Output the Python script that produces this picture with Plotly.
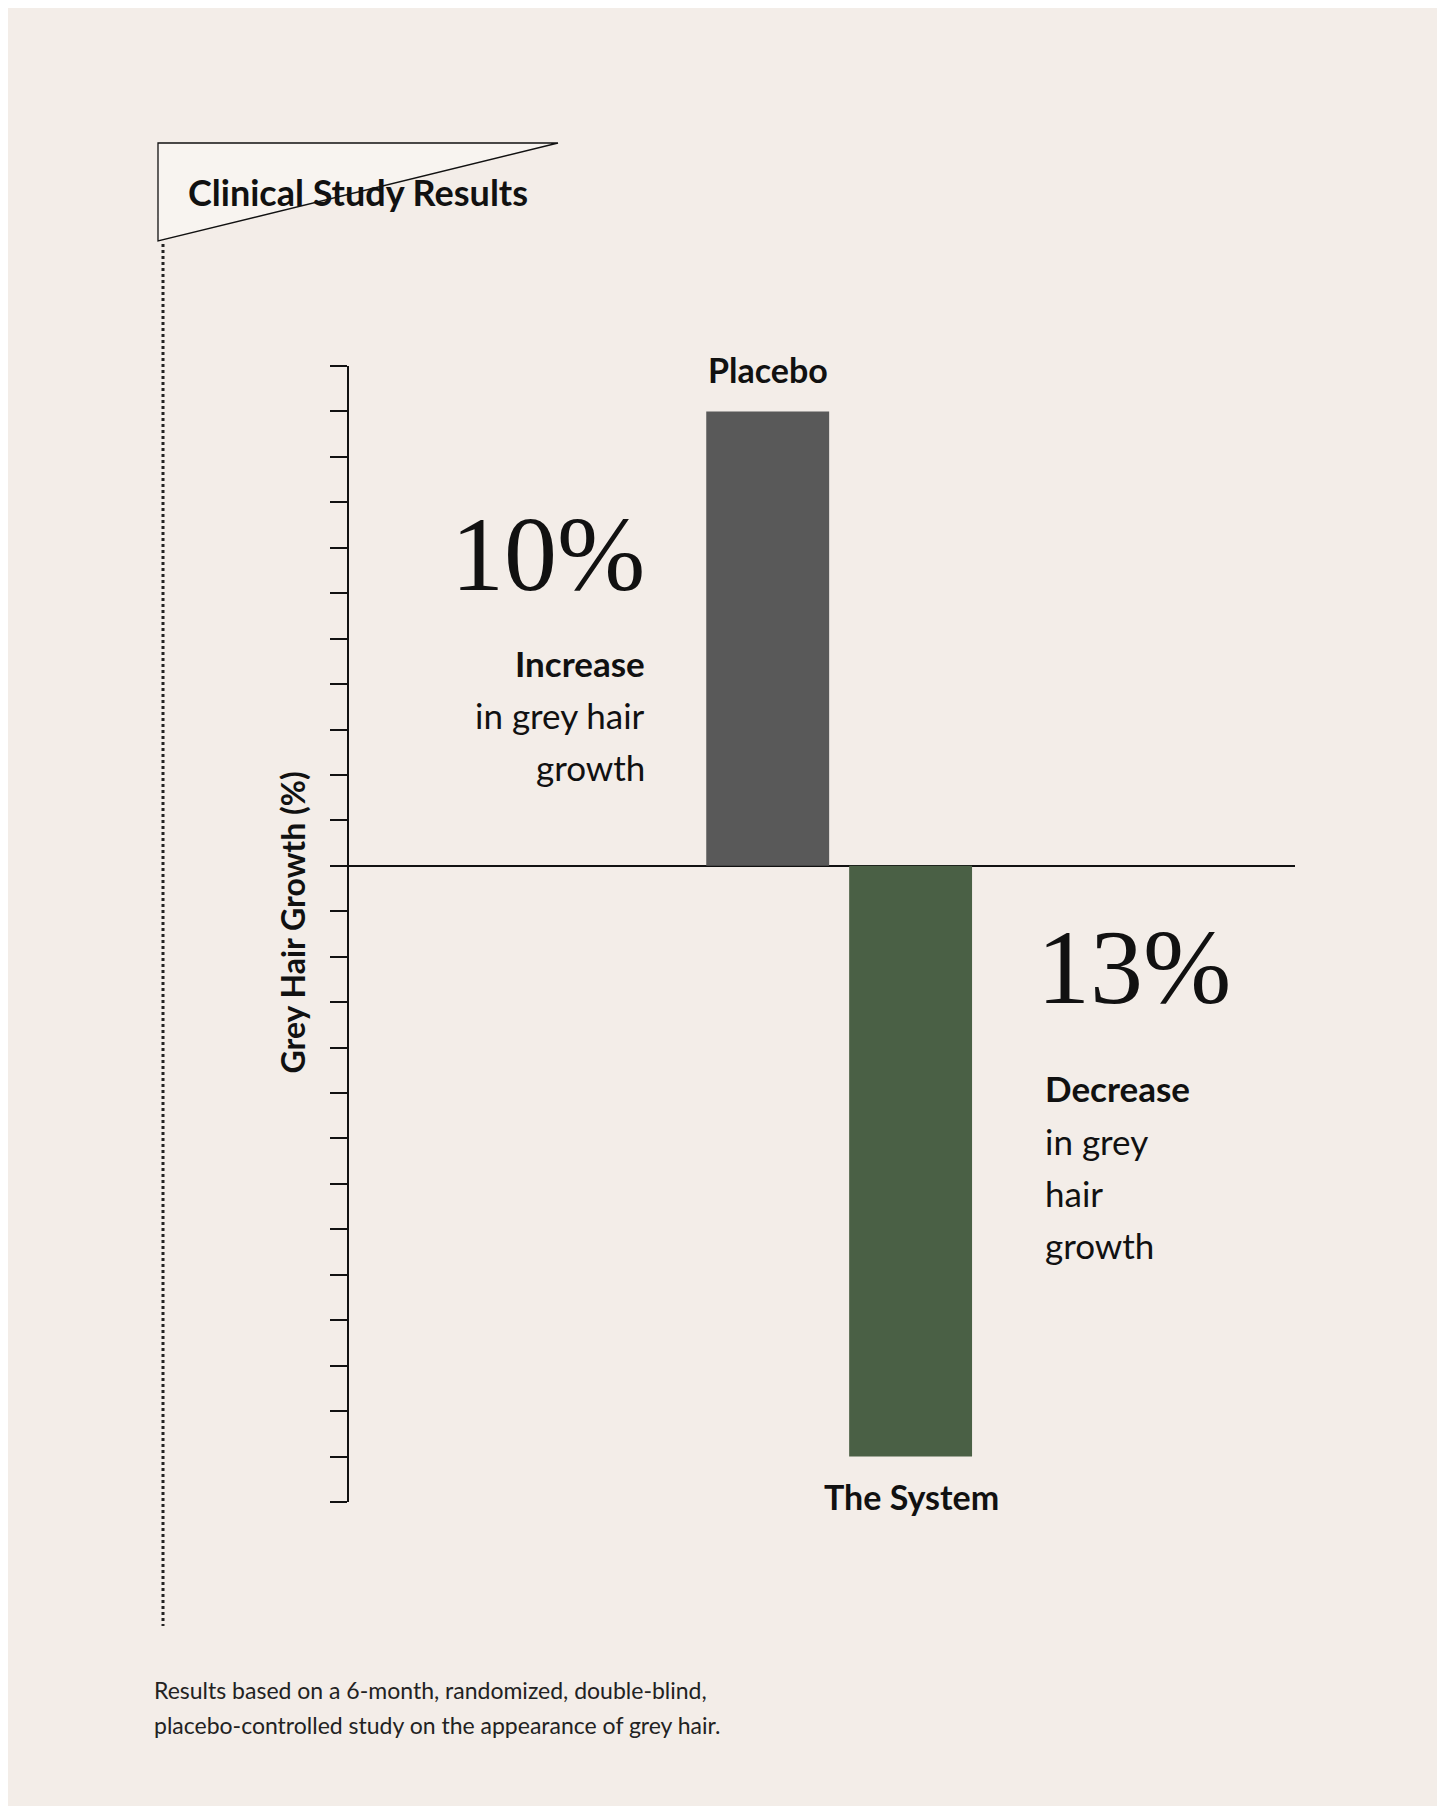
import plotly.graph_objects as go

groups = ["Placebo", "The System"]
growth = [10, -13]
bar_colors = ["#595959", "#4a6045"]
values_text = ["10%", "13%"]

W, H = 1445, 1806
SANS = "Lato, Inter, sans-serif"
SERIF = "Liberation Serif, DejaVu Serif, serif"

fig = go.Figure(go.Bar(x=groups, y=growth, marker_color=bar_colors,
                       marker_line_width=0, width=0.86))

fig.update_layout(
    width=W, height=H, margin=dict(l=0, r=0, t=0, b=0),
    paper_bgcolor="#f3ede8", plot_bgcolor="rgba(0,0,0,0)",
    showlegend=False,
    xaxis=dict(domain=[341/W, 1287/W], range=[-2.93, 3.69],
               showticklabels=False, showgrid=False, zeroline=False),
    yaxis=dict(domain=[1-1494/H, 1-358/H], range=[-14, 11], dtick=1,
               showticklabels=False, showgrid=False,
               showline=True, linecolor="#111", linewidth=1.5,
               ticks="outside", ticklen=17, tickcolor="#111", tickwidth=1.5,
               zeroline=True, zerolinecolor="#111", zerolinewidth=1.5),
)

def px(x, y):
    return x / W, 1 - y / H

def note(x, y, text, size, anchor="center", family=SANS, color="#111"):
    ax, ay = px(x, y)
    fig.add_annotation(x=ax, y=ay, xref="paper", yref="paper", text=text,
                       showarrow=False, xanchor=anchor, yanchor="middle",
                       font=dict(size=size, family=family, color=color))

# pill title (path in pixels relative to the pill centre)
cx, cy = px(350, 184)
fig.add_shape(type="path", xref="paper", yref="paper",
              xsizemode="pixel", ysizemode="pixel", xanchor=cx, yanchor=cy,
              path="M -200,49 L 200,49 A 49,49 0 0 1 200,-49 L -200,-49 A 49,49 0 0 1 -200,49 Z",
              line=dict(color="#111", width=1.3), fillcolor="#f8f4f0")
note(350, 184, "<b>Clinical Study Results</b>", 36)

# dotted line
a, b = px(155, 236); c, d = px(155, 1618)
fig.add_shape(type="line", xref="paper", yref="paper", x0=a, y0=b, x1=c, y1=d,
              line=dict(color="#222", width=3, dash="dot"))

# axis title
ax, ay = px(262, 915)
fig.add_annotation(x=ax, y=ay, xref="paper", yref="paper", text="<b>Grey Hair Growth (%)</b>",
                   textangle=-90, showarrow=False,
                   font=dict(size=32, family=SANS, color="#111"))

note(760, 362, "<b>" + groups[0] + "</b>", 34)
note(903, 1488, "<b>" + groups[1] + "</b>", 34)

note(639, 547, values_text[0], 106, "right", SERIF)
note(639, 655, "<b>Increase</b>", 35, "right")
note(639, 707, "in grey hair", 35, "right")
note(639, 759, "growth", 35, "right")

note(1027, 959, values_text[1], 106, "left", SERIF)
note(1035, 1080, "<b>Decrease</b>", 35, "left")
note(1035, 1133, "in grey", 35, "left")
note(1035, 1185, "hair", 35, "left")
note(1035, 1237, "growth", 35, "left")

note(144, 1682, "Results based on a 6-month, randomized, double-blind,", 23, "left", color="#222")
note(144, 1717, "placebo-controlled study on the appearance of grey hair.", 23, "left", color="#222")

fig.write_html("out.html")
